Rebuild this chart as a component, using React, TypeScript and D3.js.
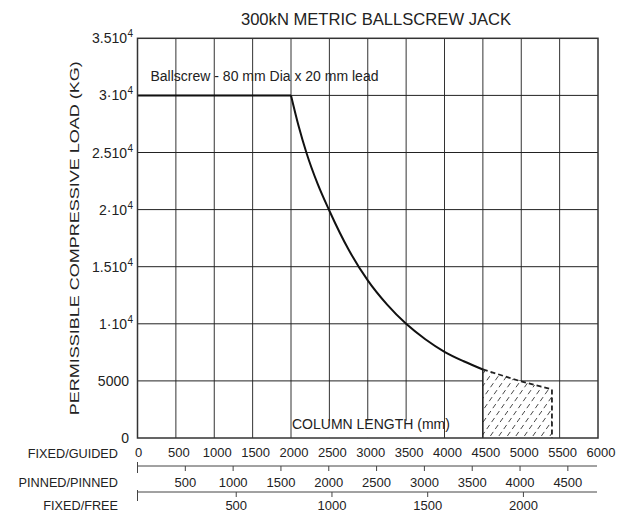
import React from "react";
import * as d3 from "d3";

const title = "300kN METRIC BALLSCREW JACK";
const yAxisTitle = "PERMISSIBLE COMPRESSIVE LOAD (KG)";
const annotation = "Ballscrew - 80 mm Dia x 20 mm lead";
const xAxisNote = "COLUMN LENGTH (mm)";

// Fixed/guided column length (mm) vs permissible load (kg)
const flatLength = [0, 2000];
const flatLoad = [30000, 30000];
const curveLength = [2000, 2100, 2200, 2350, 2500, 2750, 3000, 3250, 3500, 3750, 4000, 4250, 4500];
const curveLoad = [30000, 27300, 25000, 22200, 19900, 16500, 13800, 11700, 10000, 8650, 7550, 6720, 6000];

// Extrapolated (dashed, hatched) region
const dashLength = [4500, 5000, 5400, 5400];
const dashLoad = [6000, 4950, 4250, 0];

const yTicks = [0, 5000, 10000, 15000, 20000, 25000, 30000, 35000];
const yTickMain = ["0", "5000", "1·10", "1.510", "2·10", "2.510", "3·10", "3.510"];
const yTickSup = ["", "", "4", "4", "4", "4", "4", "4"];

const guidedTicks = [0, 500, 1000, 1500, 2000, 2500, 3000, 3500, 4000, 4500, 5000, 5500, 6000];
const pinnedTicks = [500, 1000, 1500, 2000, 2500, 3000, 3500, 4000, 4500];
const freeTicks = [500, 1000, 1500, 2000];

const rowLabels = ["FIXED/GUIDED", "PINNED/PINNED", "FIXED/FREE"];

const FONT = "'Liberation Sans', Arial, sans-serif";

export default function App() {
  const x = d3.scaleLinear().domain([0, 6000]).range([137.5, 598]);
  const y = d3.scaleLinear().domain([0, 35000]).range([438, 38.3]);
  const xPinned = d3.scaleLinear().domain([0, 4810]).range([137.5, 597.5]);
  const xFree = d3.scaleLinear().domain([0, 2400]).range([140.5, 600]);

  const flatPath = d3.line()(flatLength.map((l, i) => [x(l), y(flatLoad[i])] as [number, number])) || "";
  const line = d3
    .line<number>()
    .x((_, i) => x(curveLength[i]))
    .y((_, i) => y(curveLoad[i]))
    .curve(d3.curveMonotoneX);
  const curvePath = line(curveLoad) || "";

  const dashPts: [number, number][] = dashLength.map((l, i) => [x(l), y(dashLoad[i])]);
  const dashPath = d3.line()(dashPts) || "";
  const hatchPoly: [number, number][] = [[x(4500), y(0)], [x(4500), y(6000)], ...dashPts];
  const hatchPath = d3.line()(hatchPoly) + "Z";

  const hx0 = x(4500);
  const hx1 = x(5400);
  const hatchLines: number[] = d3.range(hx0 - 120, hx1 + 10, 8.5);

  const ply = 38.3, pry = 438;

  return (
    <svg width={619} height={515} style={{ position: "absolute", left: 0, top: 0, background: "#fff" }} fontFamily={FONT}>
      <rect width={619} height={515} fill="#fff" />
      <defs>
        <clipPath id="hatchClip">
          <path d={hatchPath} />
        </clipPath>
      </defs>
      <text x={376} y={25} fontSize={16.6} textAnchor="middle" fill="#222">{title}</text>

      {/* grid */}
      {guidedTicks.slice(1, -1).map((t) => (
        <line key={"gv" + t} x1={x(t)} x2={x(t)} y1={ply} y2={pry} stroke="#333" strokeWidth={1} />
      ))}
      {yTicks.slice(1, -1).map((t) => (
        <line key={"gh" + t} x1={x(0)} x2={x(6000)} y1={y(t)} y2={y(t)} stroke="#222" strokeWidth={1} />
      ))}

      {/* hatched extrapolated zone */}
      <rect x={hx0} y={y(6500)} width={hx1 - hx0} height={y(0) - y(6500)} fill="#fff" clipPath="url(#hatchClip)" />
      <g clipPath="url(#hatchClip)">
        {hatchLines.map((hx) => (
          <line key={"h" + hx} x1={hx} y1={y(0) - 2} x2={hx + 70} y2={y(0) - 2 - 100} stroke="#333" strokeWidth={0.9} strokeDasharray="5,3.5" />
        ))}
      </g>
      <line x1={x(4500)} x2={x(4500)} y1={y(0)} y2={y(6000)} stroke="#222" strokeWidth={1.5} />
      <path d={dashPath} fill="none" stroke="#222" strokeWidth={1.8} strokeDasharray="5,3" />

      {/* text annotations */}
      <text x={150.5} y={81} fontSize={14} fill="#222">{annotation}</text>
      <rect x={x(2000) + 1} y={y(1500)} width={x(4000) - x(2000) - 2} height={17} fill="#fff" />
      <text x={292} y={429} fontSize={14} fill="#222">{xAxisNote}</text>

      {/* curve */}
      <path d={flatPath} fill="none" stroke="#111" strokeWidth={2} />
      <path d={curvePath} fill="none" stroke="#111" strokeWidth={2} />

      {/* frame */}
      <rect x={x(0)} y={ply} width={x(6000) - x(0)} height={pry - ply} fill="none" stroke="#333" strokeWidth={1.5} />

      {/* y tick labels */}
      {yTicks.map((t, i) => (
        <g key={"yl" + t}>
          <text x={yTickSup[i] ? 127 : 129} y={y(t) + 5} fontSize={14} textAnchor="end" fill="#222">{yTickMain[i]}</text>
          {yTickSup[i] && (
            <text x={127.5} y={y(t) - 1} fontSize={10} fill="#222">{yTickSup[i]}</text>
          )}
        </g>
      ))}

      <text transform={`translate(79,${(ply + pry) / 2}) rotate(-90)`} fontSize={13.5} textAnchor="middle" fill="#222" textLength={354} lengthAdjust="spacingAndGlyphs">{yAxisTitle}</text>

      {/* fixed/guided labels */}
      {guidedTicks.map((t) => (
        <text key={"xg" + t} x={x(t) + (t === 0 ? 1 : 3)} y={457} fontSize={13} textAnchor="middle" fill="#222">{t}</text>
      ))}

      {/* pinned/pinned axis */}
      <line x1={xPinned(0)} x2={597} y1={466} y2={466} stroke="#444" strokeWidth={1} />
      <line x1={xPinned(0)} x2={xPinned(0)} y1={462} y2={473} stroke="#444" strokeWidth={1} />
      {pinnedTicks.map((t) => (
        <g key={"xp" + t}>
          <line x1={xPinned(t)} x2={xPinned(t)} y1={466} y2={471} stroke="#444" strokeWidth={1} />
          <text x={xPinned(t)} y={486.5} fontSize={13} textAnchor="middle" fill="#222">{t}</text>
        </g>
      ))}

      {/* fixed/free axis */}
      <line x1={xPinned(0)} x2={597} y1={492} y2={492} stroke="#444" strokeWidth={1} />
      <line x1={xPinned(0)} x2={xPinned(0)} y1={490} y2={501} stroke="#444" strokeWidth={1} />
      {freeTicks.map((t) => (
        <g key={"xf" + t}>
          <line x1={xFree(t)} x2={xFree(t)} y1={492} y2={497} stroke="#444" strokeWidth={1} />
          <text x={xFree(t)} y={509.5} fontSize={13} textAnchor="middle" fill="#222">{t}</text>
        </g>
      ))}

      {rowLabels.map((l, i) => (
        <text key={l} x={118} y={[457.5, 486.5, 509.5][i]} fontSize={12.7} textAnchor="end" fill="#222">{l}</text>
      ))}
    </svg>
  );
}
